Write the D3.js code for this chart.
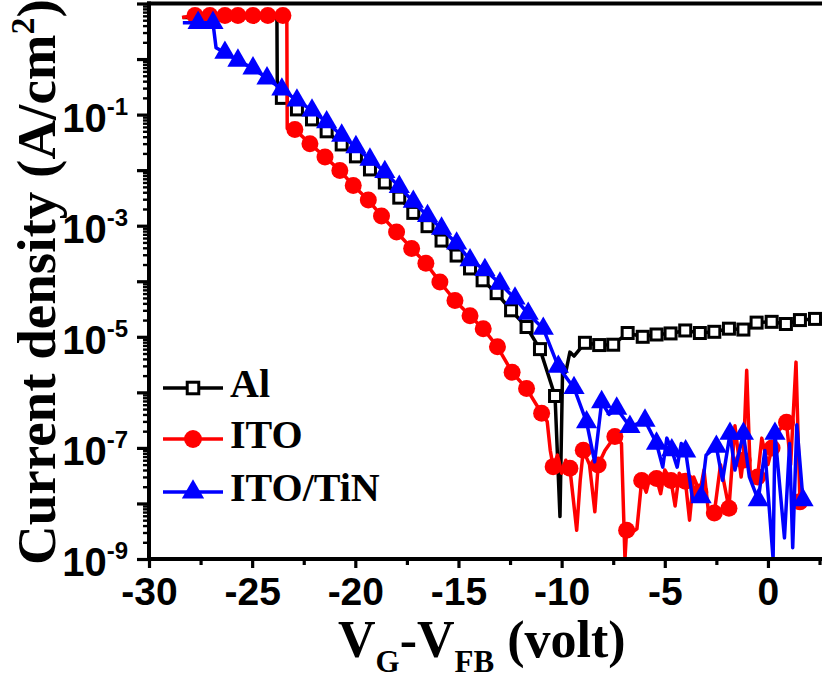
<!DOCTYPE html>
<html>
<head>
<meta charset="utf-8">
<script src="https://cdn.jsdelivr.net/npm/d3@7"></script>
<style>
  body { margin: 0; background: #fff; }
  svg { display: block; }
</style>
</head>
<body>
<svg id="chart" width="822" height="679"></svg>
<script>
// ---- data: gate voltage V_G - V_FB (volt) vs current density (A/cm^2) ----
const xTickValues = [-30, -25, -20, -15, -10, -5, 0];
const xMinorTicks = [-27.5, -22.5, -17.5, -12.5, -7.5, -2.5, 2.5];
const yLabelExponents = [-1, -3, -5, -7, -9];
const seriesNames = ["Al", "ITO", "ITO/TiN"];

// Al electrode: points carrying a symbol, and the extra trace vertices between them
const alPoints = [
  [-23.56, 0.20], [-22.83, 0.124], [-22.10, 0.082], [-21.39, 0.050], [-20.66, 0.029],
  [-19.97, 0.0177], [-19.29, 0.0103], [-18.57, 0.0060], [-17.87, 0.0032], [-17.19, 0.0017],
  [-16.50, 9.8e-4], [-15.82, 5.4e-4], [-15.09, 2.9e-4], [-14.44, 1.7e-4], [-13.83, 1.04e-4],
  [-13.15, 6.1e-5], [-12.45, 3.0e-5], [-11.70, 1.5e-5], [-11.05, 6.0e-6], [-10.32, 8.6e-7],
  [-8.87, 7.8e-6], [-8.18, 7.1e-6], [-7.50, 7.2e-6], [-6.80, 1.17e-5], [-6.07, 1.0e-5],
  [-5.40, 1.1e-5], [-4.72, 1.15e-5], [-4.01, 1.3e-5], [-3.30, 1.17e-5], [-2.60, 1.23e-5],
  [-1.89, 1.4e-5], [-1.19, 1.35e-5], [-0.55, 1.8e-5], [0.18, 1.86e-5], [0.87, 1.7e-5],
  [1.55, 2.0e-5], [2.28, 2.1e-5]
];
const alTrace = [
  [-28.36, 5.6], [-23.80, 5.6], [-23.78, 0.20],
  [-10.08, 5.8e-9], [-9.95, 3.1e-6], [-9.80, 2.3e-6], [-9.60, 5.3e-6], [-9.40, 4.5e-6],
  [2.70, 2.2e-5]
];

// ITO electrode
const itoPoints = [
  [-27.77, 6.1], [-27.05, 6.1], [-26.32, 6.1], [-25.69, 6.1], [-24.96, 6.1], [-24.24, 6.1],
  [-23.51, 6.1], [-22.93, 0.054], [-22.20, 0.030], [-21.47, 0.0172], [-20.75, 0.0099],
  [-20.10, 0.0053], [-19.37, 0.0029], [-18.73, 0.0015], [-18.00, 7.7e-4], [-17.27, 3.9e-4],
  [-16.58, 2.1e-4], [-15.90, 9.7e-5], [-15.17, 4.5e-5], [-14.44, 2.4e-5], [-13.80, 1.4e-5],
  [-13.11, 6.6e-6], [-12.40, 2.3e-6], [-11.70, 1.17e-6], [-10.97, 4.2e-7], [-10.41, 4.6e-8],
  [-9.60, 4.3e-8], [-8.95, 9.1e-8], [-8.23, 4.9e-8], [-7.42, 1.6e-7], [-6.85, 3.3e-9],
  [-6.12, 2.6e-8], [-5.40, 2.8e-8], [-4.70, 2.6e-8], [-4.00, 2.5e-8], [-3.30, 1.6e-8],
  [-2.60, 6.7e-9], [-1.89, 8.2e-9], [-1.20, 6.0e-8], [-0.50, 3.0e-8], [0.20, 1.0e-7],
  [0.90, 2.9e-7], [1.55, 1.07e-8]
];
const itoTrace = [
  [-28.40, 5.6], [-23.32, 6.1], [-23.30, 0.056],
  [-10.70, 3.0e-7], [-10.55, 9.0e-8], [-10.20, 7.4e-8], [-10.00, 3.5e-8], [-9.80, 6.0e-8],
  [-9.27, 3.3e-9], [-9.10, 2.6e-8], [-8.65, 5.0e-8], [-8.39, 7.1e-9], [-7.90, 9.0e-8],
  [-7.10, 1.2e-7], [-6.93, 1.0e-9], [-6.60, 3.0e-9], [-6.35, 3.5e-9], [-5.90, 1.6e-8],
  [-5.70, 3.2e-8], [-5.20, 1.5e-8], [-5.00, 4.0e-8], [-4.50, 9.0e-9], [-4.30, 3.5e-8],
  [-3.80, 5.0e-9], [-3.60, 3.0e-8], [-3.10, 4.0e-8], [-2.90, 8.0e-9], [-2.30, 5.0e-8],
  [-1.60, 2.5e-7], [-1.30, 3.0e-8], [-1.03, 2.5e-6], [-0.85, 3.0e-8], [-0.30, 1.5e-7],
  [0.00, 5.0e-8], [0.50, 2.0e-7], [1.10, 5.0e-8], [1.36, 3.5e-6]
];

// ITO/TiN electrode
const tinPoints = [
  [-27.62, 4.5], [-26.90, 4.5], [-26.32, 1.3], [-25.69, 0.94], [-24.96, 0.68], [-24.28, 0.45],
  [-23.56, 0.284], [-22.83, 0.18], [-22.10, 0.119], [-21.39, 0.073], [-20.66, 0.042],
  [-19.97, 0.026], [-19.29, 0.0155], [-18.57, 0.0093], [-17.87, 0.0050], [-17.19, 0.0027],
  [-16.50, 0.0015], [-15.82, 8.9e-4], [-15.09, 4.8e-4], [-14.44, 2.4e-4], [-13.72, 1.6e-4],
  [-12.99, 9.1e-5], [-12.26, 4.9e-5], [-11.62, 2.6e-5], [-10.89, 1.4e-5], [-10.16, 2.9e-6],
  [-9.40, 1.2e-6], [-8.79, 2.9e-7], [-8.06, 6.7e-7], [-7.33, 5.1e-7], [-6.69, 2.4e-7],
  [-5.96, 3.1e-7], [-5.40, 1.2e-7], [-4.66, 9.1e-8], [-3.99, 8.7e-8], [-3.24, 1.3e-8],
  [-2.50, 1.05e-7], [-1.84, 1.8e-7], [-1.19, 1.8e-7], [-0.47, 1.15e-8], [0.34, 1.8e-7],
  [1.70, 1.15e-8]
];
const tinTrace = [
  [-28.36, 4.5], [-26.75, 1.6], [-8.40, 5.6e-8], [-7.70, 4.0e-7],
  [-5.10, 4.5e-8], [-4.90, 1.5e-7], [-4.40, 4.5e-8], [-4.20, 1.2e-7], [-3.65, 1.15e-8],
  [-3.00, 7.4e-8], [-2.20, 2.6e-8], [-1.60, 4.0e-8], [-0.90, 3.0e-8], [-0.15, 9.0e-8],
  [0.25, 1.0e-9], [0.80, 2.4e-9], [1.05, 1.2e-7], [1.20, 1.6e-9], [1.40, 2.6e-7]
];

// ---- drawing ----
const W = 822, H = 679;
const plotLeft = 149, plotRight = 822, plotTop = 3.5, plotBottom = 559;

const svg = d3.select("#chart");
svg.append("rect").attr("width", W).attr("height", H).attr("fill", "#fff");

const x = d3.scaleLinear().domain([-30, 2.62]).range([plotLeft, plotRight]);
const y = d3.scaleLog().domain([1e-9, 10]).range([plotBottom, plotTop]);

svg.append("clipPath").attr("id", "plotArea")
  .append("rect").attr("x", plotLeft).attr("y", plotTop)
  .attr("width", plotRight - plotLeft).attr("height", plotBottom - plotTop);

const trace = (pts, extra) => pts.concat(extra).sort((a, b) => a[0] - b[0]);
const line = d3.line().x(d => x(d[0])).y(d => y(d[1]));

const plot = svg.append("g").attr("clip-path", "url(#plotArea)");

const series = [
  { name: seriesNames[0], color: "#000000", pts: alPoints, extra: alTrace, shape: "square" },
  { name: seriesNames[1], color: "#ff0000", pts: itoPoints, extra: itoTrace, shape: "circle" },
  { name: seriesNames[2], color: "#0000ff", pts: tinPoints, extra: tinTrace, shape: "triangle" }
];

function drawSymbol(g, shape, color, cx, cy, scale) {
  const k = scale || 1;
  if (shape === "square") {
    const s = 11 * k;
    g.append("rect").attr("x", cx - s / 2).attr("y", cy - s / 2)
      .attr("width", s).attr("height", s)
      .attr("fill", "#fff").attr("stroke", color).attr("stroke-width", 3);
  } else if (shape === "circle") {
    g.append("path").attr("d", d3.symbol(d3.symbolCircle, 227 * k * k)())
      .attr("transform", `translate(${cx},${cy})`).attr("fill", color);
  } else {
    g.append("path").attr("d", d3.symbol(d3.symbolTriangle, 195 * k * k)())
      .attr("transform", `translate(${cx},${cy})`).attr("fill", color);
  }
}

series.forEach(s => {
  const g = plot.append("g");
  g.append("path").datum(trace(s.pts, s.extra))
    .attr("d", line).attr("fill", "none")
    .attr("stroke", s.color).attr("stroke-width", 3.5)
    .attr("stroke-linejoin", "round");
  s.pts.forEach(p => drawSymbol(g, s.shape, s.color, x(p[0]), y(p[1])));
});

// ---- axes ----
const axisFont = "'Liberation Sans', Arial, sans-serif";
const titleFont = "'Liberation Serif', 'Times New Roman', serif";

const xAxis = svg.append("g").attr("transform", `translate(0,${plotBottom})`)
  .call(d3.axisBottom(x).tickValues(xTickValues).tickSize(9).tickSizeOuter(0)
    .tickPadding(9).tickFormat(d => String(d)));
xAxis.select(".domain").remove();
xAxis.selectAll(".tick line").attr("stroke", "#000").attr("stroke-width", 3.2);
xAxis.selectAll(".tick text").attr("font-family", axisFont).attr("font-weight", "bold")
  .attr("font-size", 39).attr("fill", "#000");

const xMinor = svg.append("g").attr("transform", `translate(0,${plotBottom})`)
  .call(d3.axisBottom(x).tickValues(xMinorTicks).tickSize(6).tickSizeOuter(0).tickFormat(""));
xMinor.select(".domain").remove();
xMinor.selectAll(".tick line").attr("stroke", "#000").attr("stroke-width", 3.2);

const decades = d3.range(-9, 2).map(e => Math.pow(10, e));
const minors = [];
d3.range(-9, 1).forEach(e => { for (let m = 2; m <= 9; m++) minors.push(m * Math.pow(10, e)); });

const yAxis = svg.append("g").attr("transform", `translate(${plotLeft},0)`)
  .call(d3.axisLeft(y).tickValues(decades).tickSize(12).tickSizeOuter(0).tickFormat(""));
yAxis.select(".domain").remove();
yAxis.selectAll(".tick line").attr("stroke", "#000").attr("stroke-width", 3.2);

const yMinor = svg.append("g").attr("transform", `translate(${plotLeft},0)`)
  .call(d3.axisLeft(y).tickValues(minors).tickSize(6).tickSizeOuter(0).tickFormat(""));
yMinor.select(".domain").remove();
yMinor.selectAll(".tick line").attr("stroke", "#000").attr("stroke-width", 2.4);

yLabelExponents.forEach(e => {
  const t = svg.append("text")
    .attr("x", 128).attr("y", y(Math.pow(10, e)) + 17)
    .attr("text-anchor", "end").attr("font-family", axisFont)
    .attr("font-weight", "bold").attr("font-size", 40).attr("fill", "#000");
  t.append("tspan").text("10");
  t.append("tspan").attr("font-size", 24).attr("dy", -17).text(String(e));
});

// frame lines (left, bottom, top)
const frame = svg.append("g").attr("stroke", "#000").attr("stroke-width", 4)
  .attr("stroke-linecap", "square");
frame.append("line").attr("x1", plotLeft).attr("x2", plotLeft).attr("y1", plotTop).attr("y2", plotBottom);
frame.append("line").attr("x1", plotLeft).attr("x2", plotRight).attr("y1", plotBottom).attr("y2", plotBottom);
frame.append("line").attr("x1", plotLeft).attr("x2", plotRight).attr("y1", plotTop).attr("y2", plotTop);

// ---- axis titles ----
const xt = svg.append("text").attr("x", 338).attr("y", 657)
  .attr("font-family", titleFont).attr("font-weight", "bold")
  .attr("font-size", 52).attr("fill", "#000");
xt.append("tspan").text("V");
xt.append("tspan").attr("font-size", 31).attr("dy", 15).text("G");
xt.append("tspan").attr("dy", -15).text("-V");
xt.append("tspan").attr("font-size", 31).attr("dy", 15).text("FB");
xt.append("tspan").attr("dy", -15).text("\u00a0(volt)");

const yt = svg.append("text")
  .attr("transform", "translate(55,282) rotate(-90)")
  .attr("text-anchor", "middle")
  .attr("font-family", titleFont).attr("font-weight", "bold")
  .attr("font-size", 55).attr("fill", "#000");
yt.append("tspan").text("Current density (A/cm");
yt.append("tspan").attr("font-size", 34).attr("dy", -21).text("2");
yt.append("tspan").attr("dy", 21).text(")");

// ---- legend ----
const legendRows = [388, 439, 492];
series.forEach((s, i) => {
  const g = svg.append("g");
  const cy = legendRows[i];
  g.append("line").attr("x1", 163).attr("x2", 223).attr("y1", cy).attr("y2", cy)
    .attr("stroke", s.color).attr("stroke-width", 3.5);
  drawSymbol(g, s.shape, s.color, 193, cy, 1.05);
  g.append("text").attr("x", 230).attr("y", cy + 9)
    .attr("font-family", titleFont).attr("font-weight", "bold")
    .attr("font-size", 40).attr("fill", "#000").text(s.name);
});
</script>
</body>
</html>
